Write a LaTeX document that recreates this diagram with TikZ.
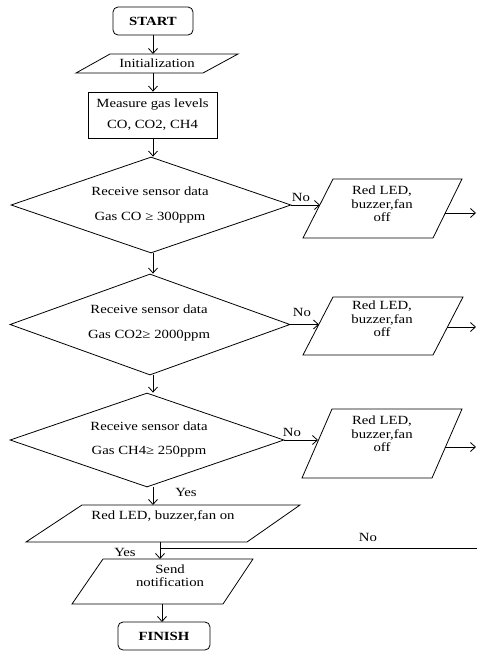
\documentclass[tikz,border=0pt]{standalone}
\usepackage{fontspec}
\setmainfont{Liberation Serif}[FakeStretch=1.18]
\usetikzlibrary{arrows.meta,shapes.geometric}
\begin{document}
\begin{tikzpicture}[x=1pt,y=-1pt,line width=0.8pt,
  arr/.style={-{Straight Barb[length=5pt,width=9pt]}},
  txt/.style={inner sep=0pt,align=center,font=\fontsize{12.5}{13.5}\selectfont},
  lbl/.style={inner sep=0pt,font=\fontsize{12.5}{13.5}\selectfont},
  term/.style={draw,rounded corners=5pt,inner sep=0pt,font=\fontsize{12.5}{14}\selectfont\bfseries},
  dia/.style={draw,diamond,inner sep=0pt},
  boxr/.style={draw,inner sep=0pt,align=center,font=\fontsize{12.5}{13.5}\selectfont}]
\useasboundingbox (0,0) rectangle (477,651);

% terminals
\node[term,minimum width=80pt,minimum height=28pt] (start) at (153,21) {START};
\node[term,minimum width=92pt,minimum height=28pt] (finish) at (164,636) {FINISH};

% initialization parallelogram
\draw (110,54) coordinate (initTL) -- (238,54) -- (203,73) -- (76,73) -- cycle;
\node[txt] (init) at (157,63.5) {Initialization};
\coordinate (initT) at (153,54);
\coordinate (initB) at (153,73);

% measure box
\node[boxr,minimum width=129pt,minimum height=46pt] (meas) at (152.5,115) {Measure gas levels\\[7.5pt]CO, CO2, CH4};

% diamonds
\node[dia,minimum width=280pt,minimum height=96pt] (d1) at (151,205) {};
\node[txt] (d1t) at (150,205) {Receive sensor data\\[11.5pt]Gas CO ≥ 300ppm};
\node[dia,minimum width=280pt,minimum height=101pt] (d2) at (150,324.5) {};
\node[txt] (d2t) at (149,323) {Receive sensor data\\[11.5pt]Gas CO2≥ 2000ppm};
\node[dia,minimum width=274pt,minimum height=94pt] (d3) at (147,440) {};
\node[txt] (d3t) at (149,439) {Receive sensor data\\[10.5pt]Gas CH4≥ 250ppm};

% red led on parallelogram
\draw (82,505) -- (300,505) -- (247,542) -- (26,542) -- cycle;
\node[txt] (ledon) at (163,516) {Red LED, buzzer,fan on};
\coordinate (ledonT) at (153,505);
\coordinate (ledonB) at (160,542);

% send notification parallelogram
\draw (103,559) -- (253,559) -- (223,604) -- (72,604) -- cycle;
\node[txt] (send) at (170,575.5) {Send\\notification};
\coordinate (sendT) at (160,559);
\coordinate (sendB) at (162,604);
\coordinate (finT) at (162,622);

% right boxes
\draw (333,179) -- (462,179) -- (433,238) -- (303,238) -- cycle;
\node[txt] (r1) at (382,204) {Red LED,\\buzzer,fan\\off};
\coordinate (r1in) at (320,205);
\coordinate (r1out) at (445,213);
\coordinate (r1end) at (476,213);

\draw (333,297) -- (463,297) -- (433,355) -- (303,355) -- cycle;
\node[txt] (r2) at (382,319) {Red LED,\\buzzer,fan\\off};
\coordinate (r2in) at (319,324.5);
\coordinate (r2out) at (447,327);
\coordinate (r2end) at (476,327);

\draw (332,409) -- (462,409) -- (432,478) -- (302,478) -- cycle;
\node[txt] (r3) at (382,434) {Red LED,\\buzzer,fan\\off};
\coordinate (r3in) at (318,440);
\coordinate (r3out) at (445,447);
\coordinate (r3end) at (476,447);

% main column connectors
\draw[arr] (start.south -| initT) -- (initT);
\draw[arr] (initB) -- (meas.north -| initB);
\draw[arr] (meas.south -| initB) -- (d1.north -| initB);
\draw[arr] (d1.south -| initB) -- (d2.north -| initB);
\draw[arr] (d2.south -| initB) -- (d3.north -| initB);
\draw[arr] (d3.south -| ledonT) -- (ledonT);
\draw[arr] (ledonB) -- (sendT);
\draw[arr] (sendB) -- (finT);

% no branches
\draw[arr] (d1.east) -- (r1in);
\draw[arr] (d2.east) -- (r2in);
\draw[arr] (d3.east) -- (r3in);
\draw[arr] (r1out) -- (r1end);
\draw[arr] (r2out) -- (r2end);
\draw[arr] (r3out) -- (r3end);

% return line
\coordinate (jn) at (160,548);
\coordinate (jr) at (477,548);
\draw (jn) -- (jr);

% labels
\node[lbl] (no1) at (301,197) {No};
\node[lbl] (no2) at (302,312) {No};
\node[lbl] (no3) at (292,432) {No};
\node[lbl] (yes1) at (186,492) {Yes};
\node[lbl] (yes2) at (125,552) {Yes};
\node[lbl] (no4) at (368,537) {No};
\end{tikzpicture}
\end{document}
